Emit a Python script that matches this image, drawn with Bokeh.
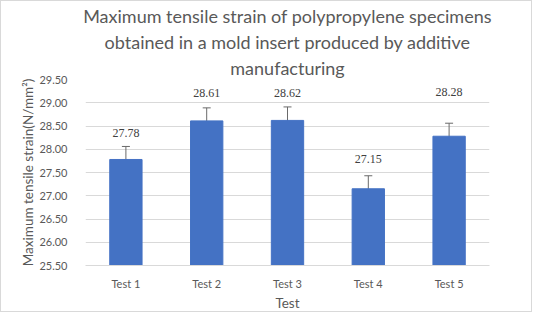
from bokeh.plotting import figure
from bokeh.models import (ColumnDataSource, Whisker, TeeHead, LabelSet, Title,
                          FactorRange, CustomJSTickFormatter)
from bokeh.embed import file_html
from bokeh.resources import INLINE

# ---- data ----
categories = ["Test 1", "Test 2", "Test 3", "Test 4", "Test 5"]
values = [27.78, 28.61, 28.62, 27.15, 28.28]
errors = [0.28, 0.28, 0.29, 0.28, 0.28]
value_labels = ["27.78", "28.61", "28.62", "27.15", "28.28"]
y_ticks = [25.5, 26.0, 26.5, 27.0, 27.5, 28.0, 28.5, 29.0, 29.5]
title_lines = [
    "Maximum tensile strain of polypropylene specimens",
    "obtained in a mold insert produced by additive",
    "manufacturing",
]

# ---- style ----
FONT = "Lato"
TXT = "#595959"
BAR = "#4472C4"
GRID = "#d9d9d9"
label_y_offsets = [26, 28, 27, 30, 44]

src = ColumnDataSource(dict(
    x=categories,
    top=values,
    upper=[v + e for v, e in zip(values, errors)],
    lower=[v - e for v, e in zip(values, errors)],
    lab=value_labels,
    yoff=label_y_offsets,
))

p = figure(
    width=532, height=312,
    x_range=FactorRange(*categories, range_padding=0),
    y_range=(25.5, 29.5),
    output_backend="svg", toolbar_location=None,
    min_border_left=84, min_border_right=44,
    min_border_top=8, min_border_bottom=42,
)
p.styles = {"border": "1px solid #d9d9d9"}
p.outline_line_color = None
p.background_fill_color = "white"
p.border_fill_color = "white"

# title: one Title per line so that every line is centred
for line in reversed(title_lines):
    p.add_layout(Title(text=line, align="center", standoff=2,
                       text_font=FONT, text_font_size="18px",
                       text_font_style="normal", text_color=TXT), "above")

p.vbar(x="x", top="top", bottom=25.5, width=0.4, source=src,
       fill_color=BAR, line_color=BAR)

w = Whisker(base="x", upper="upper", lower="lower", source=src,
            line_color="#6a6a6a", line_width=1,
            upper_head=TeeHead(size=8, line_color="#6a6a6a", line_width=1),
            lower_head=TeeHead(size=8, line_color="#6a6a6a", line_width=1))
p.add_layout(w)

labels = LabelSet(x="x", y="top", text="lab", source=src, y_offset="yoff",
                  text_align="center", text_baseline="middle",
                  text_font=FONT, text_font_size="12px", text_color="#404040")
p.add_layout(labels)

p.yaxis.ticker = y_ticks
p.yaxis.formatter = CustomJSTickFormatter(code="return tick.toFixed(2);")
p.yaxis.axis_line_color = None
p.yaxis.major_tick_line_color = None
p.yaxis.minor_tick_line_color = None
p.yaxis.major_label_standoff = 12
p.yaxis.axis_label = "Maximum tensile strain(N/mm\u00b2)"
p.yaxis.axis_label_standoff = 0

p.xaxis.axis_line_color = GRID
p.xaxis.major_tick_line_color = None
p.xaxis.minor_tick_line_color = None
p.xaxis.major_label_standoff = 5
p.xaxis.axis_label = "Test"
p.xaxis.axis_label_standoff = 2

for ax in (p.xaxis, p.yaxis):
    ax.major_label_text_font = FONT
    ax.major_label_text_font_size = "11px"
    ax.major_label_text_color = TXT
    ax.axis_label_text_font = FONT
    ax.axis_label_text_font_size = "13.5px"
    ax.axis_label_text_font_style = "normal"
    ax.axis_label_text_color = TXT

p.xgrid.grid_line_color = None
p.ygrid.grid_line_color = GRID
p.ygrid.ticker = y_ticks

open("out.html", "w").write(file_html(p, INLINE))
